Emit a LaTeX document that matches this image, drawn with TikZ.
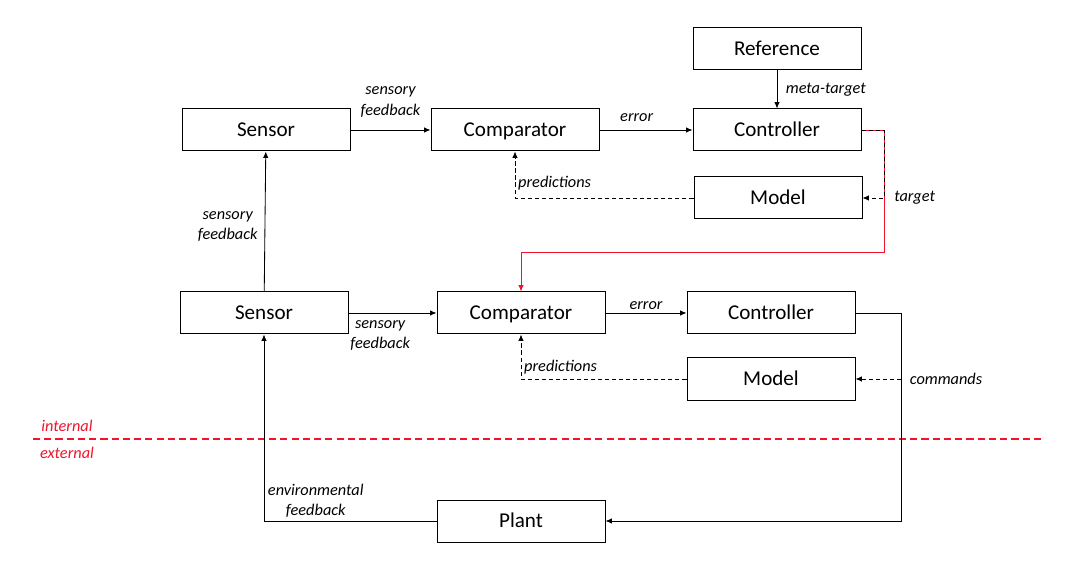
\documentclass[tikz,border=0pt]{standalone}
\usepackage{fontspec}
\setmainfont{Carlito}
\usepackage{tikz}
\usetikzlibrary{arrows.meta,positioning,calc}
\definecolor{divred}{RGB}{240,20,45}

\begin{document}
\begin{tikzpicture}[
    block/.style={draw, line width=0.7pt, align=center, minimum width=4.2cm, minimum height=1.05cm, inner sep=0pt, text height=0.9em, text depth=0pt, font=\fontsize{15}{17}\selectfont},
    lbl/.style={font=\fontsize{11.6}{14.5}\selectfont\itshape, align=center, inner sep=2pt},
    arrow/.style={-{Latex[length=4.5pt,width=3.8pt]}, line width=0.6pt},
    pred/.style={-{Latex[length=4.5pt,width=3.8pt]}, line width=0.6pt, dashed, dash pattern=on 3pt off 2pt},
    tgt/.style={-{Latex[length=4.5pt,width=3.8pt]}, line width=0.6pt, divred},
    border/.style={line width=1.4pt, divred, dash pattern=on 5pt off 3pt}
  ]
    \useasboundingbox (0,0) rectangle (26.75,14.325);

    \node[block] (ref)   at (19.425,13.1)  {Reference};
    \node[block] (sensA) at (6.65,11.075)  {Sensor};
    \node[block] (compA) at (12.875,11.075) {Comparator};
    \node[block] (ctrlA) at (19.425,11.075) {Controller};
    \node[block] (modA)  at (19.45,9.375)  {Model};

    \node[block] (sensB) at (6.6,6.5)     {Sensor};
    \node[block] (compB) at (13.025,6.5)  {Comparator};
    \node[block] (ctrlB) at (19.275,6.5)  {Controller};
    \node[block] (modB)  at (19.275,4.85) {Model};

    \node[block] (plant) at (13.025,1.3)  {Plant};

    \coordinate (tgtturn) at (22.1,8.025);
    \coordinate (cmdturn) at (22.525,6.5);
    \coordinate (lineL) at (0.825,3.35);
    \coordinate (lineR) at (26.025,3.35);

    \draw[border] (lineL) -- (lineR);
    \node[lbl, text=divred] (intl) at (1.675,3.675) {internal};
    \node[lbl, text=divred] (extl) at (1.675,3.0) {external};

    \draw[arrow] (ref) -- node[lbl, right=4pt]{meta-target} (ctrlA);
    \draw[arrow] (sensA) -- node[lbl, above=7pt]{sensory\\feedback} (compA);
    \draw[arrow] (compA) -- node[lbl, above=4pt, pos=0.4]{error} (ctrlA);
    \draw[pred] (modA.west) -| node[lbl, right, pos=0.66]{predictions} (compA.south);

    \draw[tgt] (ctrlA.east) -| (tgtturn) -| (compB.north);
    \draw[pred] (ctrlA.east) -| (tgtturn |- modA.east) node[lbl, right=5pt]{target} -- (modA.east);

    \draw[arrow] (sensB) -- node[lbl, left=3pt, yshift=-3.5pt]{sensory\\feedback} (sensA);
    \draw[arrow] (sensB) -- node[lbl, below=3pt, pos=0.36]{sensory\\feedback} (compB);
    \draw[arrow] (compB) -- node[lbl, above]{error} (ctrlB);
    \draw[pred] (modB.west) -| node[lbl, right, pos=0.63]{predictions} (compB.south);

    \draw[arrow] (ctrlB.east) -| (cmdturn |- plant.east) -- (plant.east);
    \draw[pred] (cmdturn |- modB.east) node[lbl, right=4pt]{commands} -- (modB.east);
    \draw[arrow] (plant.west) -| node[lbl, above, pos=0.35]{environmental\\feedback} (sensB.south);
  \end{tikzpicture}
\end{document}
